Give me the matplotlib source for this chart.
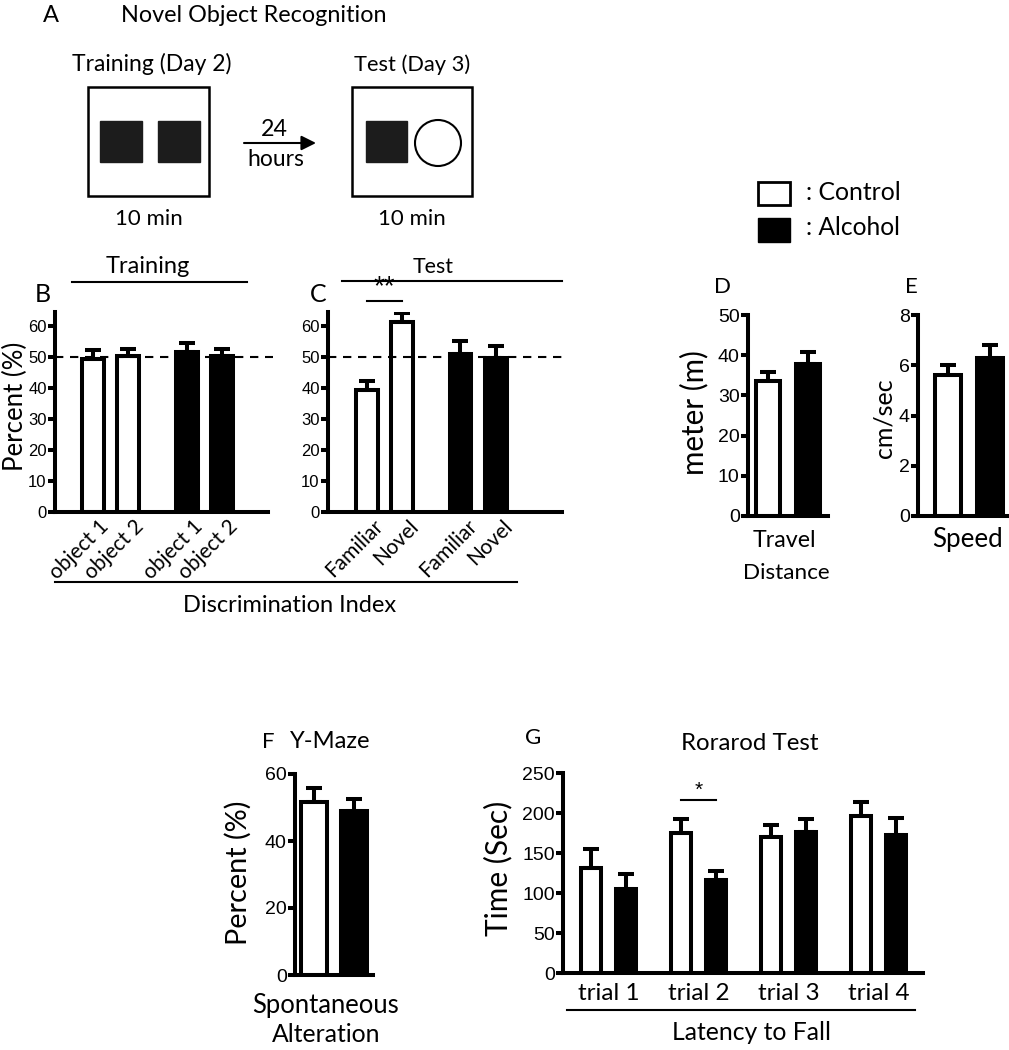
import numpy as np
import matplotlib
matplotlib.use('Agg')
import matplotlib.pyplot as plt
from matplotlib.patches import Rectangle, Circle
from matplotlib.transforms import ScaledTranslation

# B: novel object recognition, training day
b_labels = ['object 1', 'object 2', 'object 1', 'object 2']
b_means = [49.5, 50.3, 51.7, 50.3]
b_sem = [2.7, 2.3, 2.7, 2.2]
b_groups = ['Control', 'Control', 'Alcohol', 'Alcohol']

# C: novel object recognition, test day
c_labels = ['Familiar', 'Novel', 'Familiar', 'Novel']
c_means = [39.5, 61.4, 51.0, 49.6]
c_sem = [2.7, 2.7, 4.0, 4.0]
c_groups = ['Control', 'Control', 'Alcohol', 'Alcohol']

# D / E: open field
d_means = [33.6, 37.7]
d_sem = [2.3, 3.2]
e_means = [5.61, 6.27]
e_sem = [0.39, 0.53]

# F: Y-maze
f_means = [51.6, 48.9]
f_sem = [4.2, 3.6]

# G: rotarod
g_trials = ['trial 1', 'trial 2', 'trial 3', 'trial 4']
g_control = [131, 175, 170, 196]
g_control_sem = [24, 18, 15, 18]
g_alcohol = [105, 116, 176, 172]
g_alcohol_sem = [19, 11, 17, 22]

colors = {'Control': 'white', 'Alcohol': 'black'}

plt.rcParams['font.family'] = ['Lato', 'DejaVu Sans']

W, H = 1009, 1050
LW = 2.9
fig = plt.figure(figsize=(W / 100, H / 100), dpi=100)
renderer = fig.canvas.get_renderer()


def rect(l, t, r, b):
    # pixel box -> figure fraction
    return [l / W, 1 - b / H, (r - l) / W, (b - t) / H]


def txt(x, y, s, size=16, span=None, **kw):
    # span: wanted text length in px, font size is scaled to match it
    kw.setdefault('ha', 'center')
    kw.setdefault('va', 'baseline')
    t = fig.text(x / W, 1 - y / H, s, fontsize=size, **kw)
    if span:
        bb = t.get_window_extent(renderer)
        ext = bb.height if kw.get('rotation') == 90 else bb.width
        t.set_fontsize(size * span / ext)
    return t


def style(ax, ylim, yticks, tsize=14):
    for side in ['top', 'right']:
        ax.spines[side].set_visible(False)
    for side in ['left', 'bottom']:
        ax.spines[side].set_linewidth(LW)
    ax.set_ylim(*ylim)
    ax.set_yticks(yticks, [str(t) for t in yticks],
                  fontfamily='Liberation Sans', fontsize=tsize)
    ax.tick_params(axis='y', direction='out', length=5, width=LW, pad=1)
    ax.tick_params(axis='x', length=0)
    ax.patch.set_alpha(0)


def bars(ax, x, means, sem, groups, width):
    ax.bar(x, means, width, color=[colors[g] for g in groups],
           edgecolor='black', linewidth=LW, zorder=2)
    ax.errorbar(x, means, yerr=[[0] * len(means), sem], fmt='none',
                ecolor='black', elinewidth=LW, capsize=5.5, capthick=LW,
                zorder=3)


# overlay for schematic + annotation lines
ov = fig.add_axes([0, 0, 1, 1])
ov.set_xlim(0, W)
ov.set_ylim(H, 0)
ov.axis('off')

# panel A schematic
ov.add_patch(Rectangle((88, 87), 121, 109, fill=False, lw=1.8))
ov.add_patch(Rectangle((100, 121), 42, 41, color='#1c1c1c'))
ov.add_patch(Rectangle((158, 121), 42, 41, color='#1c1c1c'))
ov.add_patch(Rectangle((352, 87), 120, 109, fill=False, lw=1.8))
ov.add_patch(Rectangle((366, 121), 41, 41, color='#1c1c1c'))
ov.add_patch(Circle((438, 143), 23, fill=False, lw=1.5))
ov.annotate('', xy=(316, 143), xytext=(244, 143),
            arrowprops=dict(arrowstyle='-|>', lw=1.5, mutation_scale=22,
                            color='black', shrinkA=0, shrinkB=0))
txt(51, 22, 'A', 17)
txt(254, 22, 'Novel Object Recognition', span=265)
txt(152, 71, 'Training (Day 2)', span=161)
txt(412, 71, 'Test (Day 3)', span=117)
txt(149, 225, '10 min', span=68)
txt(412, 225, '10 min', span=68)
txt(274, 136, '24', span=27)
txt(276, 166, 'hours', span=57)

# legend
ov.add_patch(Rectangle((758, 182), 32, 23, facecolor='white', edgecolor='black', lw=2))
ov.add_patch(Rectangle((758, 218), 32, 24, color='black'))
txt(806, 200, ': Control', span=95, ha='left')
txt(806, 235, ': Alcohol', span=94, ha='left')

# group lines
ov.plot([72, 247], [282, 282], color='black', lw=1.5)
ov.plot([342, 562], [281, 281], color='black', lw=1.5)
ov.plot([55, 517], [582, 582], color='black', lw=1.5)
ov.plot([567, 915], [1010, 1010], color='black', lw=1.5)
txt(148, 273, 'Training', span=85)
txt(433, 273, 'Test', span=41)
txt(290, 612, 'Discrimination Index', span=215)

# B
ax_b = fig.add_axes(rect(55, 312, 268, 512))
xb = [0, 1, 2.686, 3.686]
bars(ax_b, xb, b_means, b_sem, b_groups, 0.62)
ax_b.set_xlim(-1.086, 5.0)
style(ax_b, (0, 64.5), [0, 10, 20, 30, 40, 50, 60], 12)
ax_b.axhline(50, xmin=0, xmax=(273 - 55) / (268 - 55), color='black',
             lw=1.5, ls=(0, (4, 3.2)), clip_on=False, zorder=4)

# C
ax_c = fig.add_axes(rect(328, 312, 562, 512))
xc = [0, 1, 2.67, 3.69]
bars(ax_c, xc, c_means, c_sem, c_groups, 0.62)
ax_c.set_xlim(-1.11, 5.57)
style(ax_c, (0, 64.5), [0, 10, 20, 30, 40, 50, 60], 12)
ax_c.axhline(50, xmin=0, xmax=(565 - 328) / (562 - 328), color='black',
             lw=1.5, ls=(0, (4, 3.2)), clip_on=False, zorder=4)
ax_c.plot([xc[0], xc[1]], [68, 68], color='black', lw=1.5, clip_on=False)
ax_c.text((xc[0] + xc[1]) / 2, 68.3, '**', ha='center', va='bottom',
          fontsize=20, fontfamily='Liberation Sans')

for ax, x, labels in [(ax_b, xb, b_labels), (ax_c, xc, c_labels)]:
    ax.set_xticks(x, labels, rotation=45, ha='right', va='center',
                  rotation_mode='anchor', fontsize=15)
    ax.tick_params(axis='x', pad=8)
    off = ScaledTranslation(0.13, 0, fig.dpi_scale_trans)
    for lab in ax.get_xticklabels():
        lab.set_transform(lab.get_transform() + off)

txt(43, 302, 'B', 18)
txt(318, 302, 'C', 18)
txt(15.5, 406, 'Percent (%)', 18.5, rotation=90, va='center')

# D
ax_d = fig.add_axes(rect(748, 315, 828, 516))
bars(ax_d, [0, 1], d_means, d_sem, ['Control', 'Alcohol'], 0.61)
ax_d.set_xlim(-0.5, 1.5)
ax_d.set_xticks([])
style(ax_d, (0, 50), [0, 10, 20, 30, 40, 50])
txt(722, 293, 'D', 16)
txt(694, 413, 'meter (m)', 20, span=125, rotation=90, va='center')
txt(784, 547, 'Travel', span=64)
txt(786, 579, 'Distance', span=87)

# E
ax_e = fig.add_axes(rect(918, 315, 1009, 516))
bars(ax_e, [0, 1], e_means, e_sem, ['Control', 'Alcohol'], 0.63)
ax_e.set_xlim(-0.714, 1.45)
ax_e.set_xticks([])
style(ax_e, (0, 8), [0, 2, 4, 6, 8])
txt(911, 293, 'E', 16)
txt(884, 418, 'cm/sec', 18, rotation=90, va='center')
txt(968, 547, 'Speed', span=71)

# F
ax_f = fig.add_axes(rect(295, 774, 373, 975))
bars(ax_f, [0, 1], f_means, f_sem, ['Control', 'Alcohol'], 0.64)
ax_f.set_xlim(-0.475, 1.475)
ax_f.set_xticks([])
style(ax_f, (0, 60), [0, 20, 40, 60])
txt(268, 748, 'F', 16)
txt(330, 748, 'Y-Maze', span=81)
txt(238, 873, 'Percent (%)', 20, span=145, rotation=90, va='center')
txt(326, 1013, 'Spontaneous', span=147)
txt(326, 1042, 'Alteration', span=109)

# G
ax_g = fig.add_axes(rect(563, 773, 923, 973))
gx = np.arange(len(g_trials)) * (90 / 35)
n = len(g_trials)
bars(ax_g, gx, g_control, g_control_sem, ['Control'] * n, 0.59)
bars(ax_g, gx + 1, g_alcohol, g_alcohol_sem, ['Alcohol'] * n, 0.59)
ax_g.set_xlim(-0.8, 9.49)
style(ax_g, (0, 250), [0, 50, 100, 150, 200, 250])
ax_g.set_xticks(gx + 0.5, g_trials, fontsize=17.5)
ax_g.tick_params(axis='x', pad=7)
ax_g.plot([gx[1], gx[1] + 1], [216, 216], color='black', lw=1.5, clip_on=False)
ax_g.text(gx[1] + 0.5, 217, '*', ha='center', va='bottom', fontsize=15,
          fontfamily='Liberation Sans')
txt(533, 744, 'G', 16)
txt(750, 750, 'Rorarod Test', span=138)
txt(498, 868, 'Time (Sec)', 20, span=135, rotation=90, va='center')
txt(752, 1040, 'Latency to Fall', span=159)

fig.savefig('out.png', dpi=100)
